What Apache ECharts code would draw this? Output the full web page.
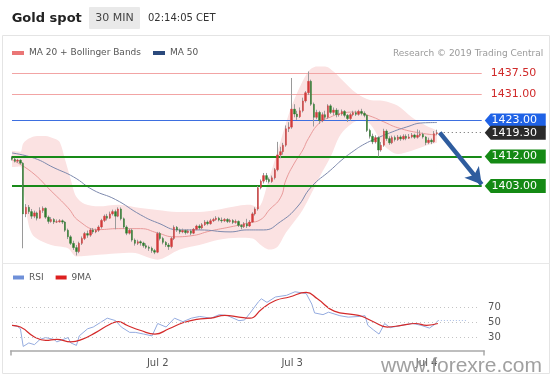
<!DOCTYPE html>
<html><head><meta charset="utf-8">
<script src="https://cdn.jsdelivr.net/npm/echarts@6/dist/echarts.min.js"></script>
<style>html,body{margin:0;padding:0;background:#fff}#c{width:553px;height:375px}</style>
</head><body><div id="c"></div>
<script>
// 30-min candles: [open, close, low, high]
const candles = [
[1411.8,1411.2,1410.8,1412.2],[1411.2,1410.6,1410.2,1411.6],[1410.6,1410.9,1410.1,1411.3],[1410.9,1410.0,1409.6,1411.2],
[1410.0,1394.5,1384.0,1410.3],[1394.5,1396.5,1393.5,1397.5],[1396.5,1395.2,1394.5,1397.2],[1395.2,1393.8,1393.0,1396.0],
[1393.8,1394.8,1393.2,1395.5],[1394.8,1393.2,1392.5,1395.2],[1393.2,1395.5,1393.0,1396.5],[1395.5,1396.2,1394.8,1396.8],
[1396.2,1393.5,1393.0,1396.5],[1393.5,1392.2,1391.5,1394.0],[1392.2,1392.8,1391.8,1393.5],[1392.8,1392.0,1391.4,1393.2],
[1392.0,1392.1,1391.7,1392.8],[1392.1,1392.4,1391.8,1392.9],[1392.4,1392.0,1391.4,1392.8],[1392.0,1389.5,1389.0,1392.3],
[1389.5,1387.5,1386.8,1390.0],[1387.5,1385.5,1385.0,1388.0],[1385.5,1384.2,1383.5,1386.3],[1384.2,1383.0,1381.8,1385.0],
[1383.0,1385.5,1382.5,1386.0],[1385.5,1387.0,1385.0,1387.6],[1387.0,1388.5,1386.5,1389.0],[1388.5,1388.0,1387.2,1389.4],
[1388.0,1389.6,1387.5,1390.2],[1389.6,1389.0,1388.4,1390.2],[1389.0,1389.5,1388.6,1390.0],[1389.5,1390.5,1389.0,1391.0],
[1390.5,1392.5,1390.0,1393.0],[1392.5,1393.8,1392.0,1394.3],[1393.8,1393.2,1392.5,1394.5],[1393.2,1394.5,1393.0,1395.2],
[1394.5,1395.2,1394.0,1395.8],[1395.2,1393.8,1389.8,1395.8],[1393.8,1396.0,1393.5,1396.5],[1396.0,1393.0,1392.5,1396.5],
[1393.0,1390.5,1390.0,1393.4],[1390.5,1388.6,1388.0,1391.0],[1388.6,1389.5,1388.2,1390.0],[1389.5,1386.5,1386.0,1390.0],
[1386.5,1385.5,1384.8,1387.0],[1385.5,1386.0,1385.0,1386.6],[1386.0,1385.6,1384.8,1386.4],[1385.6,1384.8,1384.2,1386.0],
[1384.8,1384.3,1383.8,1385.5],[1384.3,1384.0,1383.2,1384.8],[1384.0,1383.3,1382.6,1384.5],[1383.3,1382.8,1382.2,1383.8],
[1382.8,1388.5,1382.5,1389.0],[1388.5,1387.0,1386.4,1389.0],[1387.0,1385.8,1385.2,1387.5],[1385.8,1385.0,1384.4,1386.2],
[1385.0,1384.5,1383.5,1385.6],[1384.5,1387.0,1384.0,1387.5],[1387.0,1390.4,1386.5,1391.0],[1390.4,1389.6,1389.0,1390.8],
[1389.6,1389.0,1388.4,1390.0],[1389.0,1389.4,1388.6,1390.0],[1389.4,1388.8,1388.2,1389.8],[1388.8,1389.3,1388.5,1389.8],
[1389.3,1388.6,1388.0,1389.8],[1388.6,1389.8,1388.3,1390.2],[1389.8,1390.8,1389.5,1391.2],[1390.8,1390.2,1389.6,1391.3],
[1390.2,1391.2,1389.8,1391.7],[1391.2,1392.0,1390.8,1392.6],[1392.0,1391.5,1391.0,1392.5],[1391.5,1392.4,1391.2,1393.0],
[1392.4,1392.8,1392.0,1393.3],[1392.8,1393.2,1392.4,1393.8],[1393.2,1392.6,1392.2,1393.6],[1392.6,1392.4,1391.8,1393.4],
[1392.4,1392.8,1392.0,1393.2],[1392.8,1392.2,1391.7,1393.2],[1392.2,1392.5,1391.8,1393.0],[1392.5,1391.9,1391.4,1392.9],
[1391.9,1392.2,1391.5,1392.8],[1392.2,1391.0,1390.5,1392.5],[1391.0,1390.6,1389.8,1391.4],[1390.6,1391.5,1390.2,1392.0],
[1391.5,1390.8,1390.2,1393.0],[1390.8,1392.0,1390.5,1392.6],[1392.0,1394.5,1391.8,1395.0],[1394.5,1396.0,1394.0,1396.5],
[1396.0,1402.5,1395.5,1403.0],[1402.5,1404.5,1402.0,1405.0],[1404.5,1406.2,1403.8,1407.0],[1406.2,1405.0,1404.2,1407.0],
[1405.0,1404.4,1403.8,1405.6],[1404.4,1405.5,1404.0,1406.2],[1405.5,1408.0,1405.0,1408.5],[1408.0,1412.5,1407.5,1416.5],
[1412.5,1413.5,1411.5,1415.0],[1413.5,1415.5,1412.6,1416.2],[1415.5,1420.5,1415.0,1421.5],[1420.5,1421.0,1419.5,1422.5],
[1421.0,1426.5,1420.5,1436.0],[1426.5,1425.0,1424.0,1428.0],[1425.0,1424.2,1423.2,1426.0],[1424.2,1426.0,1423.8,1427.0],
[1426.0,1429.0,1425.5,1430.0],[1429.0,1431.5,1428.5,1432.0],[1431.5,1435.0,1430.8,1438.0],[1435.0,1428.0,1427.5,1435.5],
[1428.0,1424.0,1421.2,1428.5],[1424.0,1425.5,1423.4,1426.3],[1425.5,1423.0,1422.0,1426.0],[1423.0,1424.8,1422.5,1425.5],
[1424.8,1424.0,1423.2,1426.0],[1424.0,1427.5,1423.5,1428.0],[1427.5,1425.5,1425.0,1428.0],[1425.5,1426.2,1424.6,1427.0],
[1426.2,1424.8,1424.0,1426.8],[1424.8,1425.0,1424.2,1426.3],[1425.0,1425.8,1424.5,1426.4],[1425.8,1424.6,1424.0,1426.2],
[1424.6,1423.6,1422.6,1425.0],[1423.6,1424.8,1423.0,1425.3],[1424.8,1425.4,1424.3,1426.0],[1425.4,1424.9,1424.4,1426.0],
[1424.9,1425.8,1424.5,1426.3],[1425.8,1425.2,1424.6,1426.6],[1425.2,1424.6,1424.0,1425.8],[1424.6,1420.0,1419.5,1424.8],
[1420.0,1418.2,1417.5,1420.5],[1418.2,1416.5,1415.8,1419.0],[1416.5,1417.8,1416.0,1418.5],[1417.8,1414.0,1412.0,1418.2],
[1414.0,1415.5,1413.5,1416.5],[1415.5,1419.8,1415.0,1420.5],[1419.8,1417.5,1416.8,1420.3],[1417.5,1416.2,1415.6,1418.2],
[1416.2,1417.8,1415.8,1418.4],[1417.8,1417.2,1416.6,1418.4],[1417.2,1418.0,1416.8,1418.6],[1418.0,1417.4,1416.8,1418.5],
[1417.4,1418.2,1417.0,1418.8],[1418.2,1417.6,1417.0,1418.8],[1417.6,1418.0,1417.4,1418.9],[1418.0,1418.6,1417.6,1419.2],
[1418.6,1417.9,1417.4,1419.0],[1417.9,1418.5,1417.5,1420.3],[1418.5,1418.8,1418.0,1420.0],[1418.8,1418.0,1417.5,1419.3],
[1418.0,1416.3,1415.5,1418.3],[1416.3,1417.0,1415.8,1417.8],[1417.0,1416.5,1415.8,1417.5],[1416.5,1419.0,1416.2,1419.8],
[1419.0,1419.3,1418.6,1420.2]
];
// indicator readings: [candle index, value]
const ma20 = [[0,1411],[7,1407.3],[14,1401.5],[20,1396.4],[24,1392.3],[31,1389.7],[38,1390],[46,1390],[52,1388.7],[58,1387.5],[64,1387.8],[71,1389.3],[78,1390.5],[85,1391.8],[89,1392.8],[92,1395.7],[96,1399.4],[98,1404.9],[101,1410],[104,1414],[106,1417.5],[110,1422.3],[114,1424.1],[118,1425.3],[123,1425.6],[128,1424.4],[133,1422.6],[138,1420.8],[146,1419.2],[152,1418.6]];
const bbUpper = [[0,1413.8],[3,1413.5],[4,1416],[6,1417.5],[9,1418.3],[12,1418.3],[15,1417.5],[17,1416.5],[19,1411],[21,1405],[23,1399.7],[26,1397.5],[31,1396.8],[38,1397.3],[46,1396.3],[52,1395.7],[59,1395.1],[67,1395.1],[73,1395.7],[81,1397],[85,1397.3],[88,1396.5],[92,1405.5],[96,1416.5],[99,1425],[102,1431.5],[106,1438],[109,1439.5],[112,1439.5],[115,1438],[118,1435.5],[123,1431.5],[128,1429.3],[133,1429],[138,1427.5],[143,1424],[148,1421.5],[152,1420]];
const bbLower = [[0,1408.8],[3,1409],[4,1402.5],[6,1391],[8,1387.5],[14,1385],[20,1384],[23,1381.5],[31,1382],[43,1382.6],[52,1380.5],[60,1383.6],[67,1385],[74,1386.6],[81,1387.2],[86,1387],[89,1385],[92,1383.6],[95,1384.5],[98,1388.8],[104,1395.8],[110,1405.8],[114,1412],[117,1418],[120,1421],[124,1423],[128,1422],[133,1415.5],[138,1412.8],[143,1413.8],[148,1415.3],[152,1416.2]];
const ma50 = [[0,1413.1],[8,1411.5],[15,1408.6],[22,1405.8],[29,1401.8],[37,1398.9],[46,1394.2],[52,1391.8],[60,1389.6],[67,1389.6],[78,1389.0],[84,1389.6],[90,1389.6],[96,1392.1],[102,1396.6],[107,1402.7],[114,1407.9],[118,1411],[122,1413.6],[126,1415.8],[130,1417.4],[135,1419.2],[141,1421.0],[147,1422.3],[152,1422.4]];
const rsi = [[0,45.6],[2,44],[3,41],[4,17.4],[6,22.1],[8,19.8],[10,26.8],[12,29.2],[15,26.8],[16,23.5],[20,29.2],[21,22.1],[23,18.8],[24,31.5],[27,41],[29,43.3],[32,50.4],[34,55.1],[37,51.8],[39,43.3],[42,36.2],[44,36.2],[47,33.9],[50,31.5],[52,48],[55,43.3],[58,55.1],[61,50.4],[64,55.1],[67,57.4],[71,55.1],[74,59.8],[77,58.4],[81,51.8],[83,52.7],[85,62.1],[88,77.2],[89,80.9],[91,76.2],[94,83.3],[98,85.6],[101,90.3],[105,88],[107,73.9],[108,62.1],[111,59.8],[113,63.1],[117,58.4],[120,56.5],[124,57.4],[126,58.4],[127,45.6],[129,39.5],[131,33.9],[133,48],[135,42.4],[139,45.6],[143,48],[146,45.6],[149,41.9],[151,47.1],[152,51.8]];
const rsiMA = [[0,45.6],[3,43.3],[8,30.1],[12,25.4],[16,26.8],[21,23.5],[25,26.8],[30,36.2],[35,47.1],[38,50.4],[41,45.6],[46,38.6],[51,33.9],[56,41],[61,49],[66,53.6],[71,55.1],[76,58.8],[81,56.5],[85,55.1],[89,66.8],[94,78.6],[99,83.3],[105,89.4],[109,80.9],[115,64.5],[122,59.8],[125,57.4],[129,50.4],[134,43.3],[139,45.6],[144,48],[148,45.6],[152,48]];
const dayLabels = ['Jul 2','Jul 3','Jul 4'];
const dayLabelIndex = [52,100,148];
const resistances = [1437.5, 1431.0];
const pivot = 1423.0;
const lastPrice = 1419.3;
const supports = [1412.0, 1403.0];
const targetPrice = 1403.5;
const rsiLevels = [70, 50, 30];
const lastRsi = 51.8;

const FONT = 'DejaVu Sans';
const N_MAIN = 194, N_RSI = 169;
const LINE_END = 168, BOX_AT = 180, LAST = candles.length; // LAST = first empty slot after candles
const mainCats = Array.from({length:N_MAIN}, (_, i) => String(i));
const rsiCats = Array.from({length:N_RSI}, () => '');
dayLabelIndex.forEach((idx, k) => { rsiCats[idx] = dayLabels[k]; });
const bodies = candles.map(c => [c[0], c[1], Math.min(c[0], c[1]), Math.max(c[0], c[1])]);

function levelLine(v, color, width, type, labelOpt) {
  const ls = {color: color, width: width, type: type};
  const a = {coord:[0, v], lineStyle: ls, label: labelOpt || {show:false}};
  const b = {coord:[LINE_END, v], lineStyle: ls, label: labelOpt || {show:false}};
  return [a, b];
}
const redLabel = v => ({show:true, position:'end', distance:9, formatter: v.toFixed(2), color:'#d02a2a', fontSize:11, fontFamily:FONT});
const BOX = 'path://M0,7L6,0L61,0L61,14L6,14Z';
function box(v, color) {
  return {coord:[BOX_AT, v], itemStyle:{color: color}, label:{formatter: v.toFixed(2)}};
}

const chart = echarts.init(document.getElementById('c'), null, {renderer:'canvas'});
chart.setOption({
  animation: false,
  textStyle: {fontFamily: FONT},
  grid: [
    {left: 10.6, top: 60, width: 543.6, height: 203},
    {left: 10.6, top: 284.5, width: 473.5, height: 66}
  ],
  xAxis: [
    {type:'category', gridIndex:0, data: mainCats, boundaryGap:true, show:false},
    {type:'category', gridIndex:1, data: rsiCats, boundaryGap:true, position:'bottom',
     axisLine:{show:false}, axisTick:{show:false},
     axisLabel:{interval:0, color:'#555', fontSize:10, margin:8, fontFamily:FONT}},
    {type:'value', gridIndex:1, min:0, max:1, interval:1, position:'bottom',
     axisLine:{show:true, lineStyle:{color:'#a9a9a9', width:1.5}},
     axisTick:{show:true, length:5, lineStyle:{color:'#a9a9a9', width:1.5}},
     axisLabel:{show:false}, splitLine:{show:false}}
  ],
  yAxis: [
    {type:'value', gridIndex:0, min:1379.5, max:1441.5, show:false, splitLine:{show:false}},
    {type:'value', gridIndex:1, min:12, max:100, show:false, splitLine:{show:false}}
  ],
  legend: [
    {left: 12, top: 48.5, padding: 0, itemWidth: 12, itemHeight: 4, itemGap: 12, selectedMode: false,
     textStyle:{fontSize:9, color:'#555', fontFamily:FONT},
     data:[{name:'MA 20 + Bollinger Bands', icon:'rect', itemStyle:{color:'#ea7676'}},
           {name:'MA 50', icon:'rect', itemStyle:{color:'#2b4a7c'}}]},
    {left: 13, top: 273, padding: 0, itemWidth: 11, itemHeight: 4, itemGap: 12, selectedMode: false,
     textStyle:{fontSize:9, color:'#555', fontFamily:FONT},
     data:[{name:'RSI', icon:'rect', itemStyle:{color:'#6f90d8'}},
           {name:'9MA', icon:'rect', itemStyle:{color:'#dd1f1f'}}]}
  ],
  series: [
    {type:'line', name:'bbU', xAxisIndex:0, yAxisIndex:0, data: bbUpper, smooth:0.3, symbol:'none', silent:true,
     lineStyle:{opacity:0}, areaStyle:{color:'#fbe2e2', opacity:1, origin:'start'}, z:1},
    {type:'line', name:'bbL', xAxisIndex:0, yAxisIndex:0, data: bbLower, smooth:0.3, symbol:'none', silent:true,
     lineStyle:{opacity:0}, areaStyle:{color:'#ffffff', opacity:1, origin:'start'}, z:2},
    {type:'line', name:'MA 20 + Bollinger Bands', xAxisIndex:0, yAxisIndex:0, data: ma20, smooth:true, symbol:'none',
     lineStyle:{color:'#e99a9a', width:1}, itemStyle:{color:'#ea7676'}, z:3, silent:true},
    {type:'line', name:'MA 50', xAxisIndex:0, yAxisIndex:0, data: ma50, smooth:true, symbol:'none',
     lineStyle:{color:'#7d89ad', width:1}, itemStyle:{color:'#2b4a7c'}, z:3, silent:true,
     markLine:{silent:true, symbol:['none','none'], z:4, animation:false,
       data:[
         levelLine(resistances[0], '#f2a4a4', 1, 'solid', redLabel(resistances[0])),
         levelLine(resistances[1], '#f2a4a4', 1, 'solid', redLabel(resistances[1])),
         levelLine(pivot, '#3d6fe0', 1, 'solid'),
         levelLine(supports[0], '#188a18', 2, 'solid'),
         levelLine(supports[1], '#188a18', 2, 'solid'),
         [{coord:[LAST, lastPrice], lineStyle:{color:'#666', width:1, type:[1,3]}, label:{show:false}},
          {coord:[LINE_END, lastPrice], lineStyle:{color:'#666', width:1, type:[1,3]}, label:{show:false}}]
       ]},
     markPoint:{silent:true, symbol: BOX, symbolSize:[61,14], z:6,
       label:{show:true, color:'#fff', fontSize:11, fontFamily:FONT, offset:[-1,0]},
       data:[box(pivot,'#1f62e6'), box(lastPrice,'#2a2a2a'), box(supports[0],'#148a14'), box(supports[1],'#148a14')]}},
    {type:'candlestick', name:'wick', xAxisIndex:0, yAxisIndex:0, data: candles, barWidth:1, silent:true, z:5,
     itemStyle:{color:'#9a9a9a', color0:'#9a9a9a', borderColor:'#9a9a9a', borderColor0:'#9a9a9a', borderWidth:1}},
    {type:'candlestick', name:'body', xAxisIndex:0, yAxisIndex:0, data: bodies, barWidth:2, silent:true, z:6,
     itemStyle:{color:'#d13b3b', color0:'#2d7c2d', borderColor:'#d13b3b', borderColor0:'#2d7c2d', borderWidth:0.4},
     markLine:{silent:true, z:7, symbol:['none','arrow'], symbolSize:[14,16],
       data:[[{coord:[LAST, lastPrice], lineStyle:{color:'#2e5c9e', width:4.5, type:'solid'}, label:{show:false}},
              {coord:[LINE_END, targetPrice], lineStyle:{color:'#2e5c9e', width:4.5, type:'solid'}, label:{show:false}}]]}},
    {type:'line', name:'RSI', xAxisIndex:1, yAxisIndex:1, data: rsi, smooth:false, symbol:'none',
     lineStyle:{color:'#94abdf', width:1}, itemStyle:{color:'#6f90d8'}, z:3, silent:true,
     markLine:{silent:true, symbol:['none','none'],
       data: rsiLevels.map(v => [
         {coord:[0, v], lineStyle:{color:'#c4c4c4', width:1, type:[1,3]}, label:{show:true, position:'end', distance:11, formatter:String(v), color:'#555', fontSize:10, fontFamily:FONT}},
         {coord:[166, v], lineStyle:{color:'#c4c4c4', width:1, type:[1,3]}, label:{show:true, position:'end', distance:11, formatter:String(v), color:'#555', fontSize:10, fontFamily:FONT}}
       ]).concat([[
         {coord:[LAST - 1, lastRsi], lineStyle:{color:'#a9bde6', width:1, type:[1,2]}, label:{show:false}},
         {coord:[162, lastRsi], lineStyle:{color:'#a9bde6', width:1, type:[1,2]}, label:{show:false}}
       ]])}},
    {type:'line', name:'9MA', xAxisIndex:1, yAxisIndex:1, data: rsiMA, smooth:true, symbol:'none',
     lineStyle:{color:'#d42a2a', width:1.2}, itemStyle:{color:'#dd1f1f'}, z:4, silent:true}
  ],
  graphic: [
    {type:'rect', silent:true, z:-1, shape:{x:2.5, y:35.5, width:547, height:338}, style:{fill:null, stroke:'#e4e4e4', lineWidth:1}},
    {type:'line', silent:true, z:-1, shape:{x1:2.5, y1:263.5, x2:549.5, y2:263.5}, style:{stroke:'#e8e8e8', lineWidth:1}},
    {type:'text', silent:true, style:{text:'Gold spot', x:11.7, y:18.5, verticalAlign:'middle', font:'bold 13px "DejaVu Sans"', fill:'#222'}},
    {type:'rect', silent:true, shape:{x:89, y:7, width:51, height:22, r:1}, style:{fill:'#e9e9e9'}},
    {type:'text', silent:true, style:{text:'30 MIN', x:114.5, y:18.5, align:'center', verticalAlign:'middle', font:'11px "DejaVu Sans"', fill:'#444'}},
    {type:'text', silent:true, style:{text:'02:14:05 CET', x:148, y:18.5, verticalAlign:'middle', font:'10px "DejaVu Sans"', fill:'#333'}},
    {type:'text', silent:true, style:{text:'Research \u00a9 2019 Trading Central', x:543.3, y:54, align:'right', verticalAlign:'middle', font:'9px "DejaVu Sans"', fill:'#9a9a9a'}},
    {type:'text', silent:true, z:100, style:{text:'www.forexre.com', x:381, y:366, verticalAlign:'middle', font:'21px "Liberation Sans"', fill:'rgba(150,150,150,0.9)'}}
  ]
});
</script></body></html>
